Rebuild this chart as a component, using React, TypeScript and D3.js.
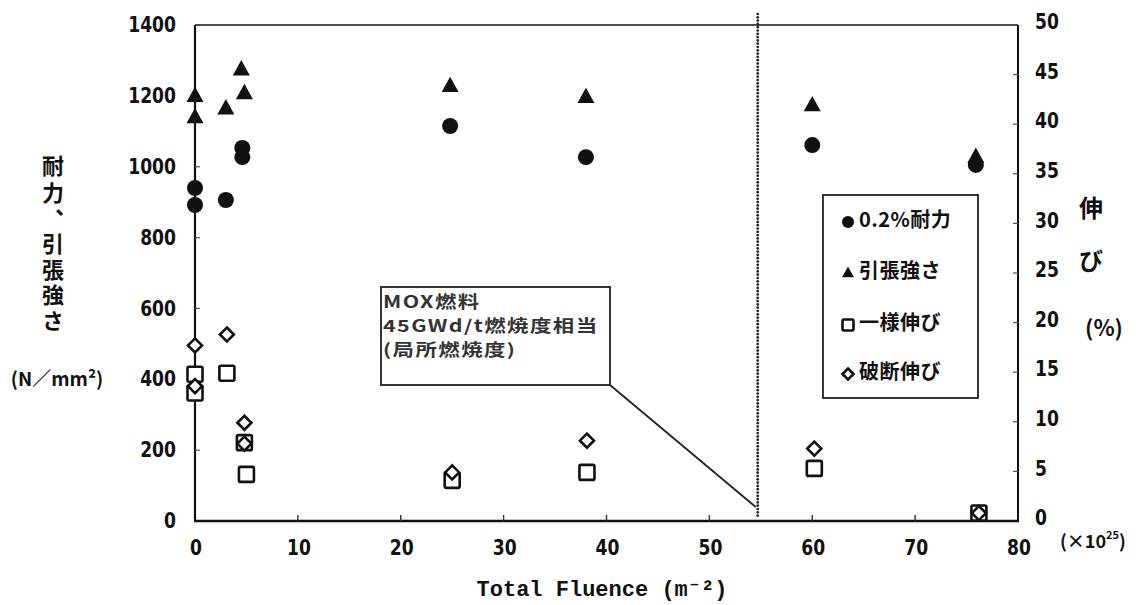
import React from "react";
import * as d3 from "d3";

// ---- data ----
const tensileX = [0, 0, 3.0, 4.5, 4.8, 24.8, 38.0, 60.0, 75.9];
const tensileY = [1200, 1140, 1165, 1275, 1208, 1228, 1197, 1174, 1028];
const proofX = [0, 0, 3.0, 4.6, 4.6, 24.8, 38.0, 60.0, 75.9];
const proofY = [940, 892, 906, 1053, 1027, 1115, 1027, 1061, 1005];
const uniformX = [0, 0, 3.1, 4.8, 5.0, 25.0, 38.1, 60.2, 76.2];
const uniformY = [14.8, 12.9, 14.9, 7.9, 4.7, 4.1, 4.9, 5.3, 0.8];
const totalX = [0, 0, 3.1, 4.8, 4.8, 25.0, 38.1, 60.2, 76.2];
const totalY = [17.7, 13.6, 18.8, 9.9, 7.8, 4.9, 8.1, 7.3, 0.8];

const xTicks = [0, 10, 20, 30, 40, 50, 60, 70, 80];
const yLeftTicks = [0, 200, 400, 600, 800, 1000, 1200, 1400];
const yRightTicks = [0, 5, 10, 15, 20, 25, 30, 35, 40, 45, 50];
const legendLabels = ["0.2%耐力", "引張強さ", "一様伸び", "破断伸び"];
const noteLines = ["MOX燃料", "45GWd/t燃焼度相当", "(局所燃焼度)"];
const markerX = 54.7;

const W = 1141;
const H = 605;
const numFont = "'DejaVu Sans', sans-serif";
const jpFont = "'Noto Sans CJK JP', sans-serif";

function Triangle({ cx, cy, s }: { cx: number; cy: number; s: number }) {
  const h = s * 0.9;
  return (
    <path
      d={`M${cx},${cy - h * 0.6} L${cx + s / 2},${cy + h * 0.4} L${cx - s / 2},${cy + h * 0.4} Z`}
      fill="#111"
    />
  );
}
function Diamond({ cx, cy, s }: { cx: number; cy: number; s: number }) {
  const r = s / 2;
  return (
    <path
      d={`M${cx},${cy - r} L${cx + r},${cy} L${cx},${cy + r} L${cx - r},${cy} Z`}
      fill="white"
      stroke="#111"
      strokeWidth={2.6}
    />
  );
}
function Square({ cx, cy, s }: { cx: number; cy: number; s: number }) {
  return (
    <rect x={cx - s / 2} y={cy - s / 2} width={s} height={s} rx={1.5} fill="white" stroke="#111" strokeWidth={2.6} />
  );
}

function Num({ x, y, anchor, children }: { x: number; y: number; anchor: string; children: any }) {
  return (
    <g transform={`translate(${x},${y}) scale(0.78,1)`}>
      <text x={0} y={0} textAnchor={anchor} dominantBaseline="middle"
        fontFamily={numFont} fontWeight="bold" fontSize={22} fill="#111">{children}</text>
    </g>
  );
}

export default function App() {
  const x = d3.scaleLinear().domain([0, 80]).range([195, 1018]);
  const yL = d3.scaleLinear().domain([0, 1400]).range([521, 25]);
  const yR = d3.scaleLinear().domain([0, 50]).range([521, 25]);
  const x0 = x(0), x1 = x(80), y0 = yL(0), y1 = yL(1400);

  const dots = d3.range(14, y0 - 4, 3.3);

  return (
    <svg width={W} height={H} style={{ display: "block", position: "absolute", left: 0, top: 0, background: "white" }}>
      <rect x={0} y={0} width={W} height={H} fill="white" />
      {/* frame */}
      <line x1={x0} y1={y1} x2={x1} y2={y1} stroke="#111" strokeWidth={1.6} />
      <line x1={x1} y1={y1} x2={x1} y2={y0} stroke="#111" strokeWidth={2} />
      <line x1={x0} y1={y1} x2={x0} y2={y0} stroke="#111" strokeWidth={2.2} />
      <line x1={x0 - 1} y1={y0} x2={x1 + 1} y2={y0} stroke="#111" strokeWidth={2.6} />

      {/* ticks */}
      {xTicks.slice(1, -1).map((t) => (
        <line key={"xt" + t} x1={x(t)} x2={x(t)} y1={y0} y2={y0 - 6} stroke="#333" strokeWidth={1.4} />
      ))}
      {yLeftTicks.slice(1, -1).map((t) => (
        <line key={"ylt" + t} x1={x0} x2={x0 + 5} y1={yL(t)} y2={yL(t)} stroke="#555" strokeWidth={1.2} />
      ))}
      {yRightTicks.slice(1, -1).map((t) => (
        <line key={"yrt" + t} x1={x1} x2={x1 - 5} y1={yR(t)} y2={yR(t)} stroke="#555" strokeWidth={1.2} />
      ))}

      {/* tick labels */}
      {xTicks.map((t) => (
        <Num key={"xl" + t} x={x(t) + 1} y={549} anchor="middle">{t}</Num>
      ))}
      {yLeftTicks.map((t) => (
        <Num key={"yl" + t} x={176} y={yL(t) + 1} anchor="end">{t}</Num>
      ))}
      {yRightTicks.map((t) => (
        <Num key={"yr" + t} x={1035} y={yR(t) - 2} anchor="start">{t}</Num>
      ))}

      {/* dotted vertical marker */}
      {dots.map((d, i) => (
        <circle key={"d" + i} cx={x(markerX)} cy={d} r={1.35} fill="#222" />
      ))}

      {/* annotation box */}
      <rect x={381} y={287} width={229} height={98} fill="white" stroke="#222" strokeWidth={1.8} />
      <g transform="translate(383,0) scale(1.3,1)">
        {noteLines.map((l, i) => (
          <text key={"n" + i} x={0} y={304 + i * 24} dominantBaseline="middle"
            fontFamily={jpFont} fontWeight="bold" fontSize={16.5} letterSpacing={1.1} fill="#333">{l}</text>
        ))}
      </g>
      <line x1={610} y1={385} x2={x(markerX) - 2} y2={507} stroke="#222" strokeWidth={1.8} />

      {/* data */}
      {tensileX.map((v, i) => (
        <Triangle key={"t" + i} cx={x(v)} cy={yL(tensileY[i])} s={17} />
      ))}
      {proofX.map((v, i) => (
        <circle key={"p" + i} cx={x(v)} cy={yL(proofY[i])} r={8} fill="#111" />
      ))}
      {uniformX.map((v, i) => (
        <Square key={"u" + i} cx={x(v)} cy={yR(uniformY[i])} s={15} />
      ))}
      {totalX.map((v, i) => (
        <Diamond key={"e" + i} cx={x(v)} cy={yR(totalY[i])} s={14} />
      ))}

      {/* legend */}
      <rect x={823} y={195} width={155} height={203} fill="white" stroke="#222" strokeWidth={1.8} />
      <circle cx={848} cy={222} r={6} fill="#111" />
      <Triangle cx={848} cy={273} s={12} />
      <Square cx={848} cy={325} s={11} />
      <Diamond cx={848} cy={374} s={11} />
      {legendLabels.map((l, i) => (
        <text key={"lg" + i} x={859} y={[222, 273, 325, 374][i]} dominantBaseline="middle"
          fontFamily={jpFont} fontWeight="bold" fontSize={20} letterSpacing={0.5} fill="#111">{l}</text>
      ))}

      {/* left axis title (vertical) */}
      <text x={53} y={155} writingMode="tb" style={{ writingMode: "vertical-rl" } as any}
        fontFamily={jpFont} fontWeight="bold" fontSize={22} letterSpacing={5} fill="#111">耐力、</text>
      <text x={53} y={233} writingMode="tb" style={{ writingMode: "vertical-rl" } as any}
        fontFamily={jpFont} fontWeight="bold" fontSize={22} letterSpacing={3.5} fill="#111">引張強さ</text>
      <text x={57} y={381} textAnchor="middle" dominantBaseline="middle"
        fontFamily={jpFont} fontWeight="bold" fontSize={19} fill="#111">(N／mm²)</text>

      {/* right axis title */}
      <text x={1091} y={210} textAnchor="middle" dominantBaseline="middle"
        fontFamily={jpFont} fontWeight="bold" fontSize={24} fill="#111">伸</text>
      <text x={1091} y={263} textAnchor="middle" dominantBaseline="middle"
        fontFamily={jpFont} fontWeight="bold" fontSize={24} fill="#111">び</text>
      <text x={1104} y={330} textAnchor="middle" dominantBaseline="middle"
        fontFamily={jpFont} fontWeight="bold" fontSize={22} fill="#111">(%)</text>
      <text x={1060} y={543} textAnchor="start" dominantBaseline="middle"
        fontFamily={jpFont} fontWeight="bold" fontSize={18} fill="#111">
        (×10<tspan fontSize={11} dy={-7}>25</tspan><tspan dy={7}>)</tspan>
      </text>

      {/* x title */}
      <text x={602} y={590} textAnchor="middle" dominantBaseline="middle"
        fontFamily="'Liberation Mono', 'DejaVu Sans Mono', monospace" fontWeight="bold" fontSize={22} fill="#111">
        Total Fluence (m⁻²)
      </text>
    </svg>
  );
}
